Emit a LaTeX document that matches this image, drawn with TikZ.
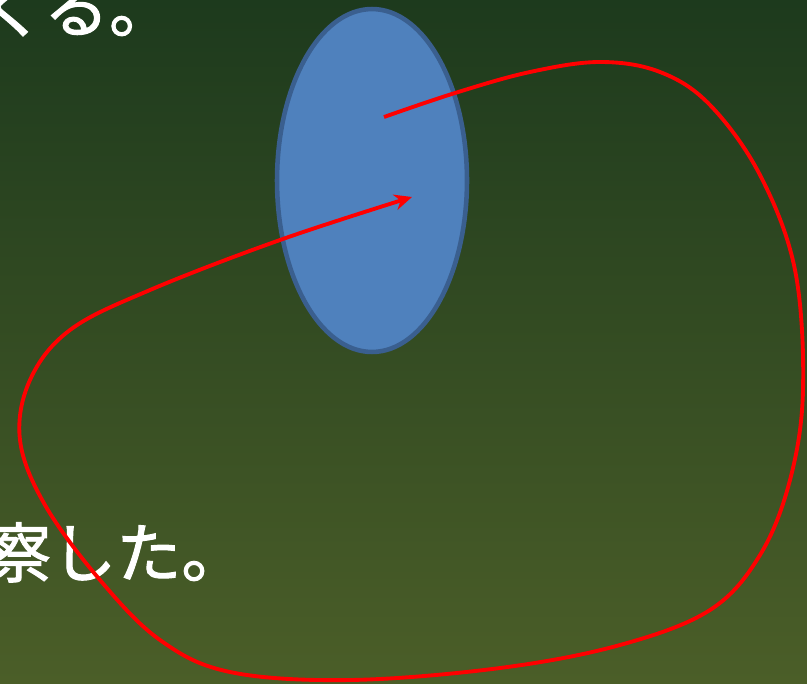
\documentclass[tikz,border=0pt]{standalone}
\usepackage{fontspec}
\newfontfamily\jpfont[FakeBold=1.5]{Noto Sans CJK JP}
\usetikzlibrary{arrows.meta,shapes.geometric}
\definecolor{BgTop}{HTML}{1D3A1D}
\definecolor{BgBot}{HTML}{4B5E28}
\definecolor{BlobFill}{HTML}{4F81BD}
\definecolor{BlobLine}{HTML}{3A5F8F}
\definecolor{LoopRed}{HTML}{FF0000}

\begin{document}
\begin{tikzpicture}[x=0.02cm,y=-0.02cm,
  jptext/.style={font=\jpfont\fontsize{37}{43}\selectfont, text=white, inner sep=0pt, anchor=base west},
  loopline/.style={LoopRed, line width=2.2pt, -{Stealth[length=10pt,width=9pt]}}]
  \clip (0,0) rectangle (807,683);
  \shade[top color=BgTop, bottom color=BgBot] (0,0) rectangle (807,683);
  % text lines, cut off by the frame
  \node[jptext] (top) at (-20,32) {くる。};
  \node[jptext] (low) at (-14,577) {察した。};
  % the blue region
  \node[ellipse, draw=BlobLine, line width=2.6pt, fill=BlobFill,
    minimum width=3.8cm, minimum height=6.86cm, inner sep=0pt] (blob) at (372,180.5) {};
  \coordinate (start) at (384,117);
  \coordinate (end) at (412,197);
  % the red loop
  \draw[loopline] plot[smooth, tension=0.6] coordinates {
    (start) (455,93) (530,72) (600,62) (660,72) (710,105) (760,175)
    (795,270) (803,390) (790,480) (760,555) (710,610) (620,645)
    (500,668) (350,680) (230,672) (160,640) (100,580) (45,505)
    (20,440) (30,380) (70,330) (150,290) (280,240) (end)};
\end{tikzpicture}
\end{document}
